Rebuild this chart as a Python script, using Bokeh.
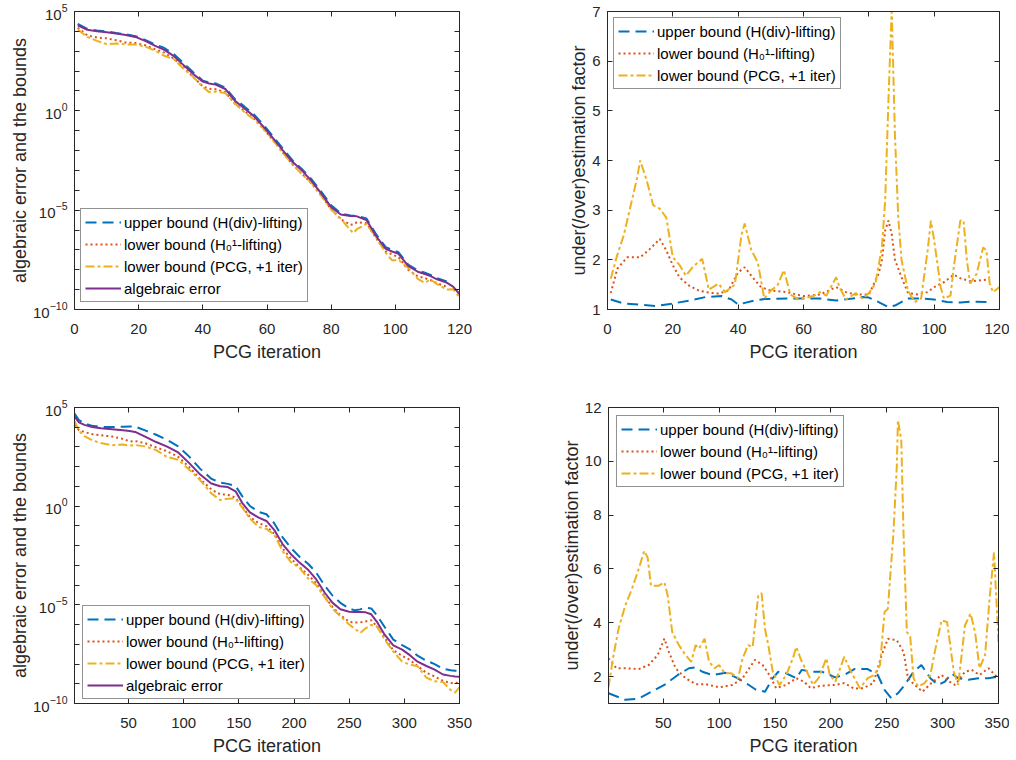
from bokeh.plotting import figure
from bokeh.models import Range1d, FixedTicker, LinearAxis, LogAxis, Legend, LegendItem, BasicTickFormatter
from bokeh.layouts import column, row
from bokeh.embed import file_html
from bokeh.resources import INLINE

# ---------------- data ----------------
# Top-left: error and bounds (log10 values), PCG iterations 1..120
tl_x = [1, 4, 7, 10, 13, 16, 19, 22, 25, 28, 31, 34, 37, 40, 42, 44, 47, 50, 53, 56, 59, 62,
        65, 68, 71, 74, 77, 80, 83, 86, 87, 88, 91, 94, 97, 99, 101, 104, 107, 109, 111, 113,
        116, 118, 120]
tl_upper_log10 = [4.38, 4.13, 4.04, 4.00, 3.92, 3.85, 3.76, 3.57, 3.35, 3.16, 2.85, 2.40, 1.94,
                  1.52, 1.42, 1.38, 1.17, 0.59, 0.21, -0.19, -0.73, -1.31, -1.91, -2.50, -2.95,
                  -3.47, -4.09, -4.75, -5.16, -5.27, -5.28, -5.28, -5.42, -6.21, -6.86, -7.00,
                  -7.12, -7.74, -8.04, -8.14, -8.26, -8.42, -8.59]
tl_lower_h1_log10 = [4.18, 3.80, 3.69, 3.65, 3.55, 3.44, 3.41, 3.30, 3.11, 2.93, 2.62, 2.18, 1.71,
                     1.23, 1.11, 1.09, 0.94, 0.36, -0.01, -0.41, -0.93, -1.50, -2.11, -2.71, -3.18,
                     -3.68, -4.29, -4.96, -5.46, -5.74, -5.72, -5.61, -5.66, -6.41, -7.07, -7.23,
                     -7.37, -8.00, -8.33, -8.41, -8.52, -8.68, -8.85]
tl_lower_pcg_log10 = [4.10, 3.72, 3.52, 3.36, 3.39, 3.34, 3.34, 3.24, 3.04, 2.77, 2.59, 2.12, 1.71,
                      1.19, 0.94, 0.97, 0.90, 0.37, -0.08, -0.44, -0.91, -1.50, -2.13, -2.69, -3.22,
                      -3.65, -4.29, -4.97, -5.42, -6.01, -6.15, -5.96, -5.70, -6.36, -7.15, -7.53,
                      -7.50, -7.90, -8.46, -8.65, -8.50, -8.72, -8.99, -8.98, -9.38]
tl_error_log10 = [4.30, 4.08, 4.00, 3.96, 3.89, 3.82, 3.72, 3.52, 3.28, 3.07, 2.75, 2.30, 1.85,
                  1.47, 1.38, 1.32, 1.10, 0.50, 0.12, -0.28, -0.82, -1.40, -2.00, -2.58, -3.02,
                  -3.55, -4.18, -4.85, -5.22, -5.29, -5.30, -5.31, -5.50, -6.30, -6.95, -7.08,
                  -7.20, -7.80, -8.10, -8.20, -8.32, -8.48, -8.65, -8.85, -9.22]

# Top-right: under/overestimation factors
tr_upper_x = [1, 5, 10, 15, 20, 25, 30, 35, 38, 40, 45, 48, 55, 60, 65, 70, 75, 78, 80, 83, 86,
              88, 92, 96, 100, 104, 108, 112, 116]
tr_upper = [1.2, 1.12, 1.1, 1.07, 1.12, 1.18, 1.25, 1.27, 1.2, 1.1, 1.18, 1.21, 1.22, 1.22, 1.22,
            1.18, 1.22, 1.25, 1.24, 1.15, 1.05, 1.08, 1.22, 1.22, 1.2, 1.15, 1.14, 1.16, 1.15]
tr_h1_x = [1, 3, 6, 10, 13, 16, 18, 20, 22, 25, 28, 31, 34, 37, 40, 42, 44, 47, 50, 55, 58, 60,
           65, 70, 73, 76, 80, 83, 84, 85, 86, 87, 88, 90, 92, 95, 98, 100, 103, 106, 108, 111,
           113, 116]
tr_h1 = [1.33, 1.82, 2.05, 2.05, 2.22, 2.42, 2.19, 1.89, 1.65, 1.48, 1.38, 1.34, 1.32, 1.38, 1.75,
         1.85, 1.68, 1.45, 1.38, 1.35, 1.3, 1.27, 1.3, 1.45, 1.35, 1.3, 1.3, 1.72, 1.99, 2.59,
         2.79, 2.52, 2.0, 1.65, 1.33, 1.3, 1.35, 1.45, 1.55, 1.7, 1.63, 1.57, 1.58, 1.6]
tr_pcg_x = [1, 3, 5, 9, 10, 12, 14, 16, 18, 20, 22, 24, 26, 29, 31, 34, 36, 39, 41, 42, 44, 46,
            48, 50, 52, 54, 56, 58, 60, 63, 65, 67, 70, 71, 73, 76, 78, 80, 82, 84, 85, 86, 87,
            88, 89, 90, 92, 94, 96, 98, 99, 100, 102, 103, 105, 106, 108, 109, 110, 111, 113,
            115, 116, 117, 118, 120]
tr_pcg = [1.62, 2.1, 2.5, 3.63, 4.0, 3.6, 3.1, 3.03, 2.85, 2.05, 1.9, 1.68, 1.85, 2.02, 1.4, 1.52,
          1.35, 1.5, 2.5, 2.73, 2.2, 1.95, 1.22, 1.38, 1.48, 1.79, 1.3, 1.22, 1.22, 1.27, 1.35,
          1.28, 1.65, 1.45, 1.2, 1.33, 1.22, 1.33, 1.52, 2.25, 3.2, 5.2, 7.05, 4.5, 2.86, 2.0,
          1.38, 1.15, 1.22, 2.19, 2.79, 2.39, 1.45, 1.22, 1.28, 1.85, 2.79, 2.79, 2.0, 1.52, 1.72,
          2.25, 2.19, 1.52, 1.35, 1.45]

# Bottom-left: error and bounds (log10 values), PCG iterations 1..350
bl_x = [1, 5, 10, 17, 25, 35, 45, 51, 56, 65, 75, 85, 95, 105, 115, 125, 133, 140, 147, 153, 160,
        168, 175, 182, 190, 197, 205, 213, 220, 228, 235, 242, 250, 255, 260, 265, 270, 275, 282,
        290, 298, 305, 312, 320, 327, 335, 342, 346, 350]
bl_upper_log10 = [4.69, 4.36, 4.20, 4.07, 4.01, 4.01, 4.03, 4.04, 4.03, 3.84, 3.62, 3.36, 3.03,
                  2.51, 1.89, 1.39, 1.19, 1.13, 1.02, 0.51, 0.01, -0.29, -0.41, -0.86, -1.61,
                  -2.10, -2.57, -2.93, -3.36, -4.04, -4.54, -4.90, -5.19, -5.28, -5.23, -5.15,
                  -5.18, -5.52, -6.11, -6.76, -7.04, -7.26, -7.58, -7.83, -7.99, -8.24, -8.31,
                  -8.34, -8.35]
bl_lower_h1_log10 = [4.12, 3.85, 3.76, 3.65, 3.59, 3.53, 3.41, 3.28, 3.30, 3.19, 2.98, 2.78, 2.50,
                     1.98, 1.37, 0.85, 0.60, 0.58, 0.43, -0.03, -0.55, -0.86, -1.01, -1.40, -2.17,
                     -2.64, -3.09, -3.49, -3.90, -4.60, -5.12, -5.52, -5.86, -5.89, -5.89, -5.84,
                     -5.78, -6.08, -6.66, -7.30, -7.58, -7.79, -8.11, -8.44, -8.62, -8.85, -8.96,
                     -8.95, -8.94]
bl_lower_pcg_log10 = [4.32, 3.82, 3.55, 3.34, 3.20, 3.09, 3.12, 3.07, 3.10, 3.03, 2.84, 2.49, 2.35,
                      1.85, 1.31, 0.65, 0.31, 0.38, 0.39, -0.06, -0.63, -1.06, -1.15, -1.44, -2.31,
                      -2.82, -3.13, -3.68, -4.00, -4.62, -5.20, -5.58, -6.00, -6.21, -6.42, -6.19,
                      -6.02, -6.08, -6.74, -7.37, -7.88, -8.03, -8.11, -8.69, -8.87, -8.91, -9.32,
                      -9.45, -9.17]
bl_error_log10 = [4.55, 4.25, 4.12, 4.01, 3.95, 3.90, 3.85, 3.81, 3.76, 3.52, 3.25, 3.02, 2.72,
                  2.18, 1.60, 1.15, 1.01, 0.97, 0.75, 0.17, -0.32, -0.58, -0.75, -1.20, -1.95,
                  -2.42, -2.86, -3.24, -3.70, -4.40, -4.90, -5.22, -5.35, -5.36, -5.36, -5.38,
                  -5.48, -5.85, -6.50, -7.05, -7.27, -7.55, -7.88, -8.10, -8.27, -8.53, -8.60,
                  -8.63, -8.65]

# Bottom-right: under/overestimation factors
br_upper_x = [1, 16, 28, 40, 51, 63, 73, 79, 85, 94, 106, 115, 124, 133, 141, 148, 153, 160, 169,
              174, 183, 192, 204, 212, 221, 233, 242, 248, 254, 260, 266, 274, 281, 289, 296, 302,
              308, 314, 323, 332, 341, 350]
br_upper = [1.38, 1.14, 1.18, 1.45, 1.69, 2.06, 2.31, 2.34, 2.18, 2.06, 2.14, 1.97, 1.76, 1.51,
            1.44, 1.94, 2.18, 2.12, 1.94, 2.25, 2.18, 2.18, 1.97, 2.06, 2.28, 2.28, 2.06, 1.51,
            1.2, 1.38, 1.69, 2.18, 2.43, 1.94, 1.69, 1.81, 2.12, 1.94, 1.88, 1.94, 1.94, 2.0]
br_h1_x = [1, 8, 16, 28, 37, 45, 51, 55, 61, 70, 79, 88, 100, 112, 121, 132, 139, 145, 151, 160,
           169, 176, 182, 191, 204, 212, 221, 229, 238, 245, 251, 259, 265, 269, 275, 282, 290,
           299, 306, 311, 320, 326, 333, 341, 347, 350]
br_h1 = [2.68, 2.31, 2.31, 2.28, 2.43, 2.8, 3.41, 2.92, 2.31, 1.94, 1.72, 1.72, 1.6, 1.69, 1.94,
         2.62, 2.43, 2.06, 1.57, 1.69, 1.94, 1.81, 1.57, 1.66, 1.69, 1.76, 1.55, 1.57, 1.76, 2.74,
         3.41, 3.35, 2.92, 1.94, 1.69, 1.44, 1.76, 2.06, 1.81, 1.69, 2.18, 2.25, 2.06, 2.31, 2.06,
         1.94]
br_pcg_x = [1, 5, 10, 16, 22, 28, 33, 36, 39, 46, 51, 54, 58, 64, 70, 75, 79, 82, 87, 91, 96, 100,
            105, 111, 117, 121, 126, 130, 135, 138, 141, 144, 148, 154, 160, 166, 169, 174, 180,
            184, 189, 196, 199, 204, 212, 218, 226, 233, 239, 244, 248, 251, 256, 259, 260, 263,
            265, 268, 271, 274, 278, 284, 289, 293, 299, 304, 310, 314, 320, 325, 329, 333, 338,
            342, 346, 350]
br_pcg = [1.6, 2.68, 3.78, 4.64, 5.26, 6.0, 6.67, 6.43, 5.38, 5.38, 5.5, 5.01, 3.66, 3.17, 2.8,
          2.55, 3.17, 3.04, 3.41, 2.55, 2.31, 2.43, 2.12, 2.12, 1.94, 2.68, 3.17, 3.1, 5.01, 5.1,
          3.78, 3.17, 2.18, 1.69, 2.06, 2.68, 3.1, 2.55, 2.06, 1.69, 1.94, 2.68, 2.06, 1.81, 2.74,
          2.18, 1.57, 1.94, 2.06, 2.43, 4.4, 4.52, 7.35, 9.81, 11.53, 10.79, 7.35, 3.66, 3.48,
          1.94, 1.63, 1.76, 2.06, 2.92, 4.09, 4.03, 2.18, 1.69, 3.91, 4.34, 3.66, 2.31, 2.8, 4.89,
          6.61, 3.29]

labels = ["upper bound (H(div)-lifting)", "lower bound (H\u2080\u00b9-lifting)",
          "lower bound (PCG, +1 iter)", "algebraic error"]
x_label = "PCG iteration"
y_label_left = "algebraic error and the bounds"
y_label_right = "under(/over)estimation factor"
ticks_120 = [0, 20, 40, 60, 80, 100, 120]
ticks_350 = [50, 100, 150, 200, 250, 300, 350]
log_major = [1e-10, 1e-5, 1e0, 1e5]
log_minor = [10.0 ** k for k in range(-10, 6)]

# ---------------- styling ----------------
FONT = "Liberation Sans"
INK = "#262626"
COLORS = ["#0072BD", "#D95319", "#EDB120", "#7E2F8E"]
DASHES = ["11 6", "2 3", "9 3 3 3", "solid"]
LW = 2


def style_axis(ax, hide=False, standoff=6):
    ax.axis_line_color = INK
    ax.axis_line_width = 1
    ax.major_tick_line_color = INK
    ax.minor_tick_line_color = INK
    ax.major_tick_in = 5
    ax.major_tick_out = 0
    ax.minor_tick_in = 5
    ax.minor_tick_out = 0
    ax.major_label_text_font = FONT
    ax.major_label_text_font_size = "15px"
    ax.major_label_text_color = INK
    ax.major_label_standoff = standoff
    ax.axis_label_text_font = FONT
    ax.axis_label_text_font_size = "18px"
    ax.axis_label_text_font_style = "normal"
    ax.axis_label_text_color = INK
    ax.axis_label_standoff = 5
    if hide:
        ax.major_label_text_font_size = "1px"
        ax.major_label_text_color = None
        ax.major_label_standoff = 0


def make_fig(w, h, ml, mr, mt, mb, xr, yr, xticks, yticks, yminor, log, ylabel):
    p = figure(width=w, height=h, x_range=Range1d(*xr), y_range=Range1d(*yr),
               y_axis_type="log" if log else "linear", output_backend="svg",
               toolbar_location=None, min_border_left=ml, min_border_right=mr,
               min_border_top=mt, min_border_bottom=mb)
    p.grid.visible = False
    p.outline_line_color = INK
    p.background_fill_color = "white"
    p.border_fill_color = "white"
    xt = FixedTicker(ticks=xticks, minor_ticks=[])
    yt = FixedTicker(ticks=yticks, minor_ticks=yminor)
    p.xaxis.ticker = xt
    p.yaxis.ticker = yt
    p.xaxis.axis_label = x_label
    p.yaxis.axis_label = ylabel
    for ax in p.xaxis:
        style_axis(ax, standoff=14)
        ax.axis_label_standoff = 5
    for ax in p.yaxis:
        style_axis(ax, standoff=7)
        ax.axis_label_standoff = 0
    top = LinearAxis(ticker=xt)
    style_axis(top, hide=True)
    p.add_layout(top, "above")
    right = LogAxis(ticker=yt, formatter=BasicTickFormatter()) if log else LinearAxis(ticker=yt)
    style_axis(right, hide=True)
    p.add_layout(right, "right")
    return p


def add_legend(p, renderers, location, margin):
    items = [LegendItem(label=labels[i], renderers=[r]) for i, r in enumerate(renderers)]
    leg = Legend(items=items, location=location, margin=margin)
    leg.label_text_font = FONT
    leg.label_text_font_size = "15px"
    leg.label_text_color = "black"
    leg.border_line_color = INK
    leg.border_line_width = 1
    leg.background_fill_color = "white"
    leg.background_fill_alpha = 1.0
    leg.glyph_width = 36
    leg.glyph_height = 18
    leg.label_height = 18
    leg.label_standoff = 3
    leg.spacing = 4
    leg.padding = 4
    p.add_layout(leg)


def lines(p, series):
    rs = []
    for i, (xs, ys) in enumerate(series):
        rs.append(p.line(xs, ys, line_color=COLORS[i], line_width=LW, line_dash=DASHES[i]))
    return rs


def pow10(vals):
    return [10.0 ** v for v in vals]


# ---- top-left ----
p1 = make_fig(500, 390, 74, 41, 11, 81, (0, 120), (1e-10, 1e5), ticks_120, log_major, log_minor,
              True, y_label_left)
r1 = lines(p1, [
    (tl_x[:len(tl_upper_log10)], pow10(tl_upper_log10)),
    (tl_x[:len(tl_lower_h1_log10)], pow10(tl_lower_h1_log10)),
    (tl_x, pow10(tl_lower_pcg_log10)),
    (tl_x, pow10(tl_error_log10)),
])
add_legend(p1, r1, (6, 7), 0)

# ---- top-right ----
p2 = make_fig(509, 390, 107, 10, 11, 81, (0, 120), (1, 7), ticks_120, [1, 2, 3, 4, 5, 6, 7], [],
              False, y_label_right)
r2 = lines(p2, [(tr_upper_x, tr_upper), (tr_h1_x, tr_h1), (tr_pcg_x, tr_pcg)])
add_legend(p2, r2, "top_left", 6)

# ---- bottom-left ----
p3 = make_fig(500, 368, 74, 41, 17, 52, (1, 350), (1e-10, 1e5), ticks_350, log_major, log_minor,
              True, y_label_left)
r3 = lines(p3, [
    (bl_x, pow10(bl_upper_log10)),
    (bl_x, pow10(bl_lower_h1_log10)),
    (bl_x, pow10(bl_lower_pcg_log10)),
    (bl_x, pow10(bl_error_log10)),
])
add_legend(p3, r3, (8, 4), 0)

# ---- bottom-right ----
p4 = make_fig(509, 368, 108, 11, 17, 53, (1, 350), (1, 12), ticks_350, [2, 4, 6, 8, 10, 12], [],
              False, y_label_right)
r4 = lines(p4, [(br_upper_x, br_upper), (br_h1_x, br_h1), (br_pcg_x, br_pcg)])
add_legend(p4, r4, "top_left", 8)

layout = column(row(p1, p2), row(p3, p4))
open("out.html", "w").write(file_html(layout, INLINE))
